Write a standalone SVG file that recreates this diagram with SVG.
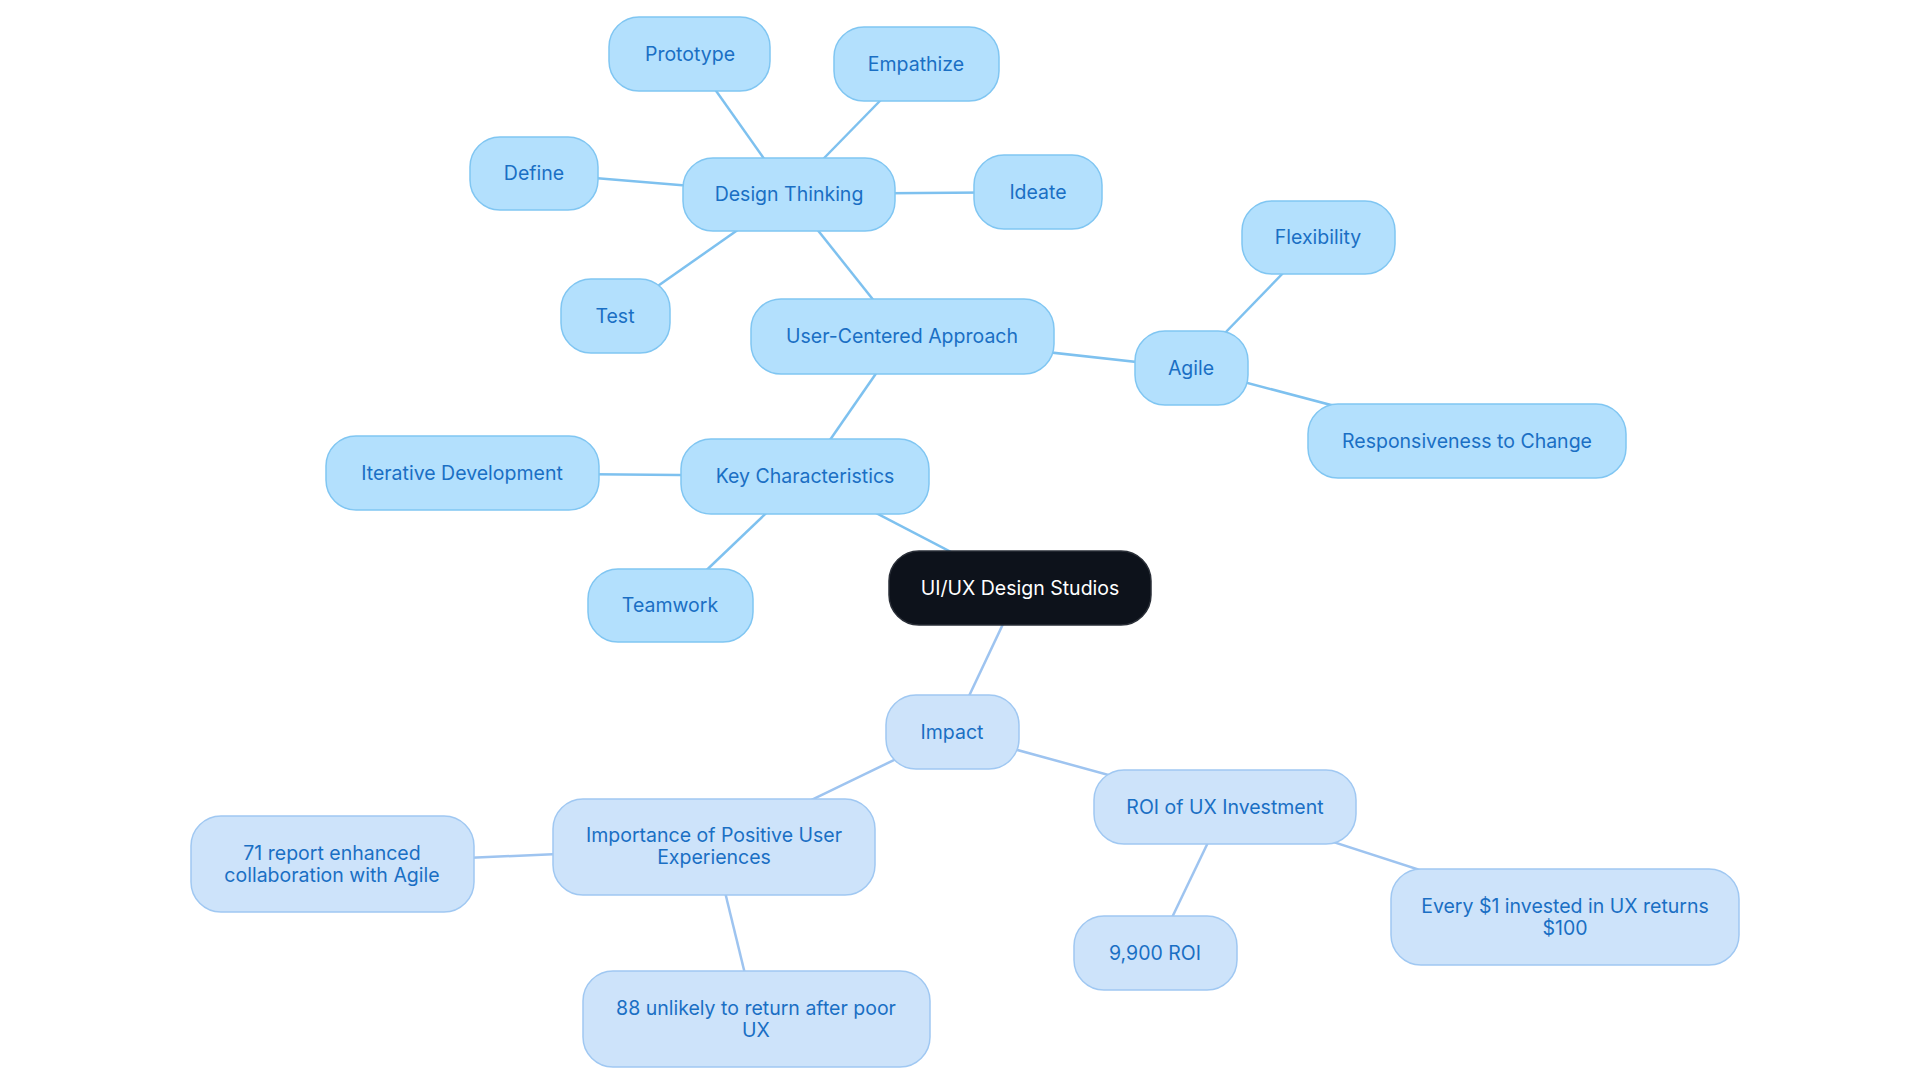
<svg xmlns="http://www.w3.org/2000/svg" width="1920" height="1083" viewBox="0 0 1920 1083">
<style>
.a rect{fill:#B3E0FD;stroke:#80C6F2;stroke-width:1.5}
.b rect{fill:#CDE3FA;stroke:#A0C8F2;stroke-width:1.5}
text{font-family:Inter,"Noto Sans",sans-serif;font-size:19.5px;fill:#1A6FC4;text-anchor:middle;dominant-baseline:central}
.r rect{fill:#0D121B;stroke:#2a2f38;stroke-width:1.5}
.r text{fill:#fff}
#edges line{stroke-width:2.5}
.ea{stroke:#7EC1EF}.eb{stroke:#9EC4F0}
</style>
<rect width="1920" height="1083" fill="#fff"/>
<g id="edges">
<line class="ea" x1="1020" y1="588" x2="805" y2="476"/>
<line class="ea" x1="805" y1="476" x2="902" y2="336"/>
<line class="ea" x1="805" y1="476" x2="462" y2="473"/>
<line class="ea" x1="805" y1="476" x2="670" y2="605"/>
<line class="ea" x1="902" y1="336" x2="789" y2="194"/>
<line class="ea" x1="902" y1="336" x2="1191" y2="368"/>
<line class="ea" x1="1191" y1="368" x2="1318" y2="237"/>
<line class="ea" x1="1191" y1="368" x2="1467" y2="441"/>
<line class="ea" x1="789" y1="194" x2="690" y2="54"/>
<line class="ea" x1="789" y1="194" x2="916" y2="64"/>
<line class="ea" x1="789" y1="194" x2="534" y2="173"/>
<line class="ea" x1="789" y1="194" x2="1038" y2="192"/>
<line class="ea" x1="789" y1="194" x2="615" y2="316"/>
<line class="eb" x1="1020" y1="588" x2="952" y2="732"/>
<line class="eb" x1="952" y1="732" x2="714" y2="847"/>
<line class="eb" x1="952" y1="732" x2="1225" y2="807"/>
<line class="eb" x1="714" y1="847" x2="332" y2="864"/>
<line class="eb" x1="714" y1="847" x2="756" y2="1019"/>
<line class="eb" x1="1225" y1="807" x2="1155" y2="953"/>
<line class="eb" x1="1225" y1="807" x2="1565" y2="917"/>
</g>
<g id="root" class="r"><rect x="889" y="551" width="262" height="74" rx="30"/><text x="1020" y="588">UI/UX Design Studios</text></g>
<g id="dt" class="a"><rect x="683" y="158" width="212" height="73" rx="30"/><text x="789" y="194">Design Thinking</text></g>
<g id="proto" class="a"><rect x="609" y="17" width="161" height="74" rx="30"/><text x="690" y="54">Prototype</text></g>
<g id="emp" class="a"><rect x="834" y="27" width="165" height="74" rx="30"/><text x="916" y="64">Empathize</text></g>
<g id="def" class="a"><rect x="470" y="137" width="128" height="73" rx="30"/><text x="534" y="173">Define</text></g>
<g id="ideate" class="a"><rect x="974" y="155" width="128" height="74" rx="30"/><text x="1038" y="192">Ideate</text></g>
<g id="test" class="a"><rect x="561" y="279" width="109" height="74" rx="30"/><text x="615" y="316">Test</text></g>
<g id="uca" class="a"><rect x="751" y="299" width="303" height="75" rx="30"/><text x="902" y="336">User-Centered Approach</text></g>
<g id="agile" class="a"><rect x="1135" y="331" width="113" height="74" rx="30"/><text x="1191" y="368">Agile</text></g>
<g id="flex" class="a"><rect x="1242" y="201" width="153" height="73" rx="30"/><text x="1318" y="237">Flexibility</text></g>
<g id="resp" class="a"><rect x="1308" y="404" width="318" height="74" rx="30"/><text x="1467" y="441">Responsiveness to Change</text></g>
<g id="kc" class="a"><rect x="681" y="439" width="248" height="75" rx="30"/><text x="805" y="476">Key Characteristics</text></g>
<g id="iter" class="a"><rect x="326" y="436" width="273" height="74" rx="30"/><text x="462" y="473">Iterative Development</text></g>
<g id="team" class="a"><rect x="588" y="569" width="165" height="73" rx="30"/><text x="670" y="605">Teamwork</text></g>
<g id="impact" class="b"><rect x="886" y="695" width="133" height="74" rx="30"/><text x="952" y="732">Impact</text></g>
<g id="imp" class="b"><rect x="553" y="799" width="322" height="96" rx="30"/><text x="714" y="835">Importance of Positive User</text><text x="714" y="857">Experiences</text></g>
<g id="r71" class="b"><rect x="191" y="816" width="283" height="96" rx="30"/><text x="332" y="853">71 report enhanced</text><text x="332" y="875">collaboration with Agile</text></g>
<g id="r88" class="b"><rect x="583" y="971" width="347" height="96" rx="30"/><text x="756" y="1008">88 unlikely to return after poor</text><text x="756" y="1030">UX</text></g>
<g id="roi" class="b"><rect x="1094" y="770" width="262" height="74" rx="30"/><text x="1225" y="807">ROI of UX Investment</text></g>
<g id="r9900" class="b"><rect x="1074" y="916" width="163" height="74" rx="30"/><text x="1155" y="953">9,900 ROI</text></g>
<g id="every" class="b"><rect x="1391" y="869" width="348" height="96" rx="30"/><text x="1565" y="906">Every $1 invested in UX returns</text><text x="1565" y="928">$100</text></g>
</svg>
